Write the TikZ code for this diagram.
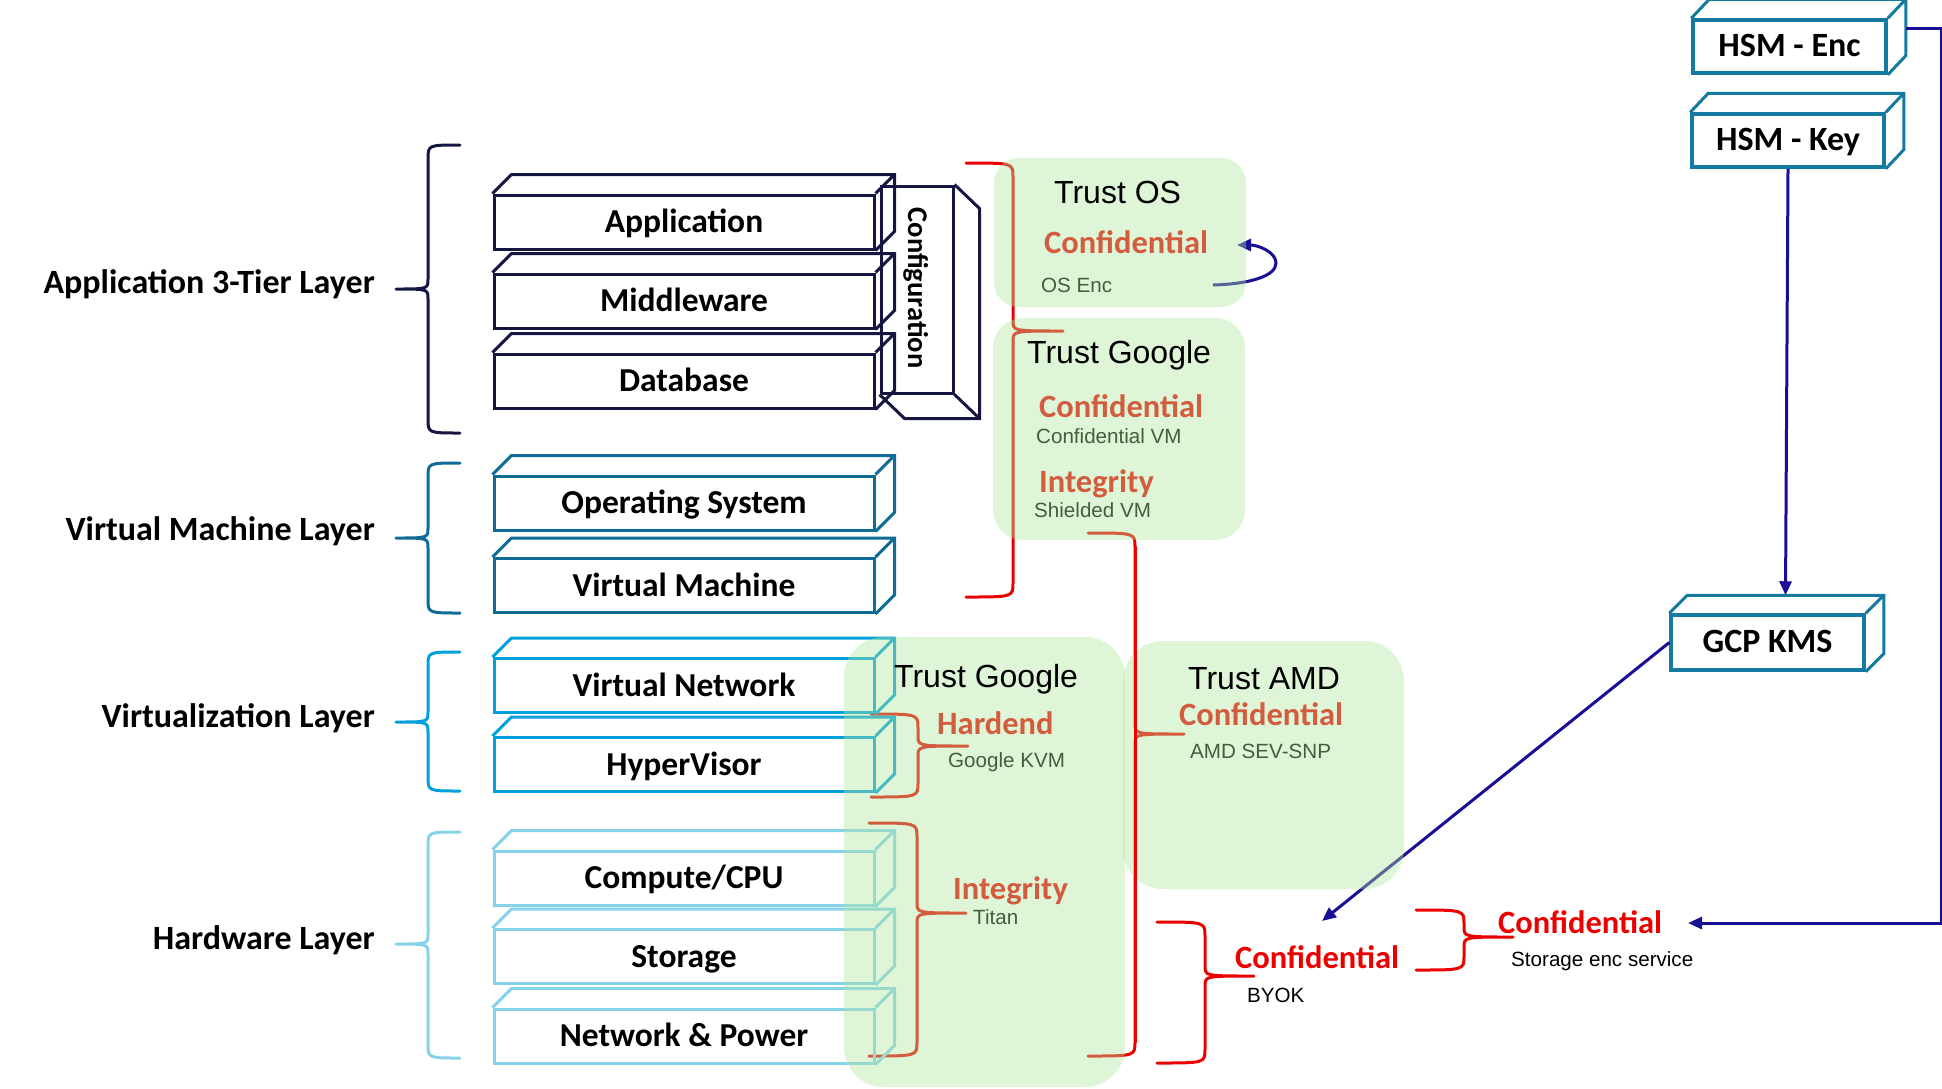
\documentclass[tikz,border=0pt]{standalone}
\usepackage{fontspec}
\setmainfont{Liberation Sans}
\newfontfamily\carlito{Carlito}
\usetikzlibrary{calc,arrows.meta}
\definecolor{appc}{RGB}{22,22,66}
\definecolor{vmc}{RGB}{14,108,150}
\definecolor{vzc}{RGB}{0,160,220}
\definecolor{hwc}{RGB}{135,210,235}
\definecolor{hsmc}{RGB}{20,122,160}
\definecolor{redc}{RGB}{235,0,0}
\definecolor{arrc}{RGB}{25,15,150}
\definecolor{gfill}{RGB}{175,230,155}
\tikzset{
  lbox/.style={draw, line width=3pt, minimum width=380pt, minimum height=54pt, inner sep=0pt,
    text height=21pt, text depth=0pt, font=\carlito\bfseries\fontsize{33.5}{36}\selectfont},
  layerlbl/.style={anchor=base east, inner sep=0pt, font=\carlito\bfseries\fontsize{34}{36}\selectfont},
  titlelbl/.style={anchor=base west, inner sep=0pt, font=\fontsize{32}{36}\selectfont},
  conflbl/.style={anchor=base west, inner sep=0pt, text=redc, font=\carlito\bfseries\fontsize{32.5}{36}\selectfont},
  sublbl/.style={anchor=base west, inner sep=0pt, font=\fontsize{20.6}{24}\selectfont},
  brc/.style={line width=3pt, line join=round, line cap=round},
  greenbox/.style={fill=gfill, fill opacity=0.4, draw=none, inner sep=0pt},
  hsmbox/.style={draw=hsmc, line width=3.5pt, inner sep=0pt, text height=20pt, text depth=0pt,
    font=\carlito\bfseries\fontsize{34}{38}\selectfont},
  arr/.style={draw=arrc, line width=3pt, -{Triangle[length=14pt,width=12pt]}},
}
\newcommand\drawbrace[7]{%
  \draw[brc,#1] (#2,#5) .. controls (#3,#5) and (#3,#5) .. (#3,#5+14) -- (#3,#6-10)
    .. controls (#3,#6) and (#3,#6) .. (#4,#6)
    .. controls (#3,#6) and (#3,#6) .. (#3,#6+10) -- (#3,#7-14)
    .. controls (#3,#7) and (#3,#7) .. (#2,#7);}
\newcommand\boxdepth[4]{%
  \draw[line width=3pt, #2] (#1.north west) -- ++(#3,-#4) -- ($(#1.north east)+(#3,-#4)$)
    -- ($(#1.south east)+(#3,-#4)$) -- (#1.south east) (#1.north east) -- ++(#3,-#4);}
\begin{document}
\begin{tikzpicture}[x=1pt,y=-1pt]
\useasboundingbox (0,0) rectangle (1942,1088);

% ---- layer braces and labels
\drawbrace{appc}{460}{428}{396}{145}{289}{433}
\drawbrace{vmc}{460}{428}{396}{463}{538}{613}
\drawbrace{vzc}{460}{428}{396}{652}{722}{791}
\drawbrace{hwc}{460}{428}{396}{832}{944}{1058}
\node[layerlbl] (lapp) at (375,293) {Application 3-Tier Layer};
\node[layerlbl] (lvm) at (375,540) {Virtual Machine Layer};
\node[layerlbl] (lvz) at (375,727) {Virtualization Layer};
\node[layerlbl] (lhw) at (375,949) {Hardware Layer};

% ---- red braces
\drawbrace{redc}{966}{1013}{1063}{163}{331}{597}
\drawbrace{redc}{1088}{1135}{1184}{533}{734}{1056}
\drawbrace{redc}{871}{918}{968}{714}{746}{797}
\drawbrace{redc}{869}{917}{966}{823}{913}{1056}
\drawbrace{redc}{1157}{1205}{1254}{922}{976}{1063}
\drawbrace{redc}{1416}{1464}{1513}{910}{937}{970}

% ---- red labels and sub labels
\node[conflbl] (c1) at (1044,253) {Confidential};
\node[sublbl] (s1) at (1041,292) {OS Enc};
\node[conflbl] (c2) at (1039,417) {Confidential};
\node[sublbl] (s2) at (1036,443) {Confidential VM};
\node[conflbl] (i1) at (1039,492) {Integrity};
\node[sublbl] (s3) at (1034,517) {Shielded VM};
\node[conflbl] (h1) at (937,734) {Hardend};
\node[sublbl] (s4) at (948,767) {Google KVM};
\node[conflbl] (i2) at (953,899) {Integrity};
\node[sublbl] (s5) at (973,924) {Titan};
\node[conflbl] (c3) at (1179,725) {Confidential};
\node[sublbl] (s6) at (1190,758) {AMD SEV-SNP};
\node[conflbl] (c4) at (1235,968) {Confidential};
\node[sublbl] (s7) at (1247,1002) {BYOK};
\node[conflbl] (c5) at (1498,933) {Confidential};
\node[sublbl] (s8) at (1511,966) {Storage enc service};

% ---- configuration box
\node[draw=appc, line width=3pt, minimum width=72pt, minimum height=207pt, inner sep=0pt] (cfg) at (917,289.5) {};
\draw[line width=3pt, appc, line join=miter] (cfg.north east) -- ++(25,24) -- ($(cfg.south east)+(25,24)$)
  -- ($(cfg.south west)+(25,24)$) -- (cfg.south west) (cfg.south east) -- ++(25,24);
\node[rotate=-90, inner sep=0pt, text height=18pt, text depth=0pt, font=\carlito\bfseries\fontsize{28.5}{32}\selectfont] (cfglbl) at (917,288) {Configuration};

% ---- stacked boxes
\node[lbox, draw=appc] (bapp) at (684,222) {Application};
\boxdepth{bapp}{appc}{19}{19}
\node[lbox, draw=appc] (bmid) at (684,301) {Middleware};
\boxdepth{bmid}{appc}{19}{19}
\node[lbox, draw=appc] (bdb) at (684,381) {Database};
\boxdepth{bdb}{appc}{19}{19}
\node[lbox, draw=vmc] (bos) at (684,503) {Operating System};
\boxdepth{bos}{vmc}{19}{19}
\node[lbox, draw=vmc] (bvm) at (684,585.5) {Virtual Machine};
\boxdepth{bvm}{vmc}{19}{19}
\node[lbox, draw=vzc] (bvn) at (684,685.5) {Virtual Network};
\boxdepth{bvn}{vzc}{19}{19}
\node[lbox, draw=vzc] (bhv) at (684,764.5) {HyperVisor};
\boxdepth{bhv}{vzc}{19}{19}
\node[lbox, draw=hwc] (bcpu) at (684,878) {Compute/CPU};
\boxdepth{bcpu}{hwc}{19}{19}
\node[lbox, draw=hwc] (bst) at (684,956.5) {Storage};
\boxdepth{bst}{hwc}{19}{19}
\node[lbox, draw=hwc] (bnp) at (684,1036) {Network \& Power};
\boxdepth{bnp}{hwc}{19}{19}

% ---- HSM / KMS boxes
\node[hsmbox, minimum width=193pt, minimum height=53pt] (hsmenc) at (1789.5,46.5) {HSM - Enc};
\boxdepth{hsmenc}{hsmc}{18}{19}
\node[hsmbox, minimum width=192pt, minimum height=53pt] (hsmkey) at (1788,140.5) {HSM - Key};
\boxdepth{hsmkey}{hsmc}{18}{19}
\node[hsmbox, minimum width=193pt, minimum height=55pt] (kms) at (1767.5,642.5) {GCP KMS};
\boxdepth{kms}{hsmc}{18}{18}

% ---- arrows
\coordinate (kmstop) at ($(kms.north)+(18,-18)$);
\coordinate (byoktip) at (1322,921);
\coordinate (encout) at ($(hsmenc.east)+(18,-18)$);
\coordinate (storetip) at (1688,923);
\coordinate (osencout) at (1213,285);
\coordinate (osencin) at (1237,245);
\draw[arr] (hsmkey.south) -- (kmstop);
\draw[arr] (kms.west) -- (byoktip);
\draw[arr] (encout) -- ++(36,0) |- (storetip);
\draw[arr] (osencout) .. controls (1250,284) and (1276,276) .. (1276,263)
  .. controls (1276,252) and (1258,245) .. (osencin);

% ---- green overlays
\node[greenbox, minimum width=252pt, minimum height=149pt, rounded corners=25pt] (tosbox) at (1120,232.5) {};
\node[greenbox, minimum width=252pt, minimum height=222pt, rounded corners=30pt] (tgubox) at (1119,429) {};
\node[greenbox, minimum width=281pt, minimum height=450pt, rounded corners=40pt] (tglbox) at (984.5,862) {};
\node[greenbox, minimum width=281pt, minimum height=248pt, rounded corners=40pt] (amdbox) at (1263.5,765) {};

% long brace stem drawn over the overlays
\draw[brc, redc] (1135,547) -- (1135,1042);

% ---- titles
\node[titlelbl] (t1) at (1054,203) {Trust OS};
\node[titlelbl] (t2) at (1027,363) {Trust Google};
\node[titlelbl] (t3) at (894,687) {Trust Google};
\node[titlelbl] (t4) at (1188,689) {Trust AMD};
\end{tikzpicture}
\end{document}
